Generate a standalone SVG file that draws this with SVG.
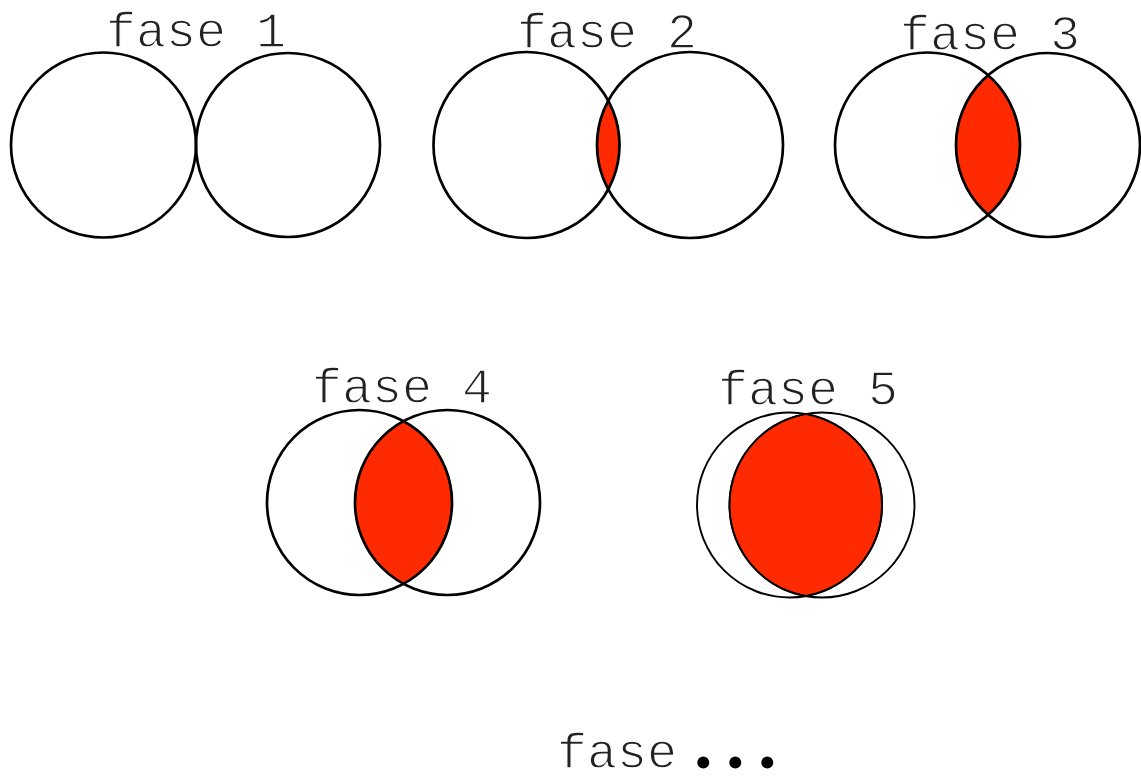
<svg xmlns="http://www.w3.org/2000/svg" width="1141" height="783" viewBox="0 0 1141 783">
  <style>
    .bg { fill: #ffffff; }
    .ring { fill: none; stroke: #000000; stroke-width: 2.7; }
    .ring-thin { fill: none; stroke: #000000; stroke-width: 1.9; }
    .lens { fill: #ff2a00; stroke: #000000; stroke-width: 1.5; }
    .label { font-family: "Liberation Mono", "Courier New", monospace; font-size: 50px; fill: #222222; stroke: #ffffff; stroke-width: 1.3; }
    .dots { font-family: "Liberation Serif", "Times New Roman", serif; font-size: 74px; font-weight: bold; letter-spacing: 13.5px; fill: #000000; stroke: none; }
  </style>
  <rect class="bg" x="0" y="0" width="1141" height="783"/>

  <g id="fase1">
    <circle class="ring" cx="103.5" cy="145" r="92.5"/>
    <circle class="ring" cx="288" cy="145" r="92"/>
    <text class="label" x="196" y="47" text-anchor="middle">fase 1</text>
  </g>

  <g id="fase2">
    <path class="lens" d="M608.25,100.65 A93,93 0 0 0 608.25,189.35 A93,93 0 0 0 608.25,100.65 Z"/>
    <circle class="ring" cx="526.5" cy="145" r="93"/>
    <circle class="ring" cx="690" cy="145" r="93"/>
    <text class="label" x="607" y="48" text-anchor="middle">fase 2</text>
  </g>

  <g id="fase3">
    <path class="lens" d="M988.1,75.1 A92,92 0 0 0 988.1,214.9 A92.5,92.5 0 0 0 988.1,75.1 Z"/>
    <circle class="ring" cx="927.5" cy="145" r="92.5"/>
    <circle class="ring" cx="1048" cy="145" r="92"/>
    <text class="label" x="990" y="50" text-anchor="middle">fase 3</text>
  </g>

  <g id="fase4">
    <path class="lens" d="M403.5,421.1 A92.5,92.5 0 0 0 403.5,583.9 A92.5,92.5 0 0 0 403.5,421.1 Z"/>
    <circle class="ring" cx="359.5" cy="502.5" r="92.5"/>
    <circle class="ring" cx="447.5" cy="502.5" r="92.5"/>
    <text class="label" x="402" y="403" text-anchor="middle">fase 4</text>
  </g>

  <g id="fase5">
    <path class="lens" d="M805.75,413.9 A92.5,92.5 0 0 0 805.75,596.1 A92.5,92.5 0 0 0 805.75,413.9 Z"/>
    <circle class="ring-thin" cx="789.5" cy="505" r="92.5"/>
    <circle class="ring-thin" cx="822" cy="505" r="92.5"/>
    <text class="label" x="808" y="405" text-anchor="middle">fase 5</text>
  </g>

  <g id="fase-more">
    <text class="label" x="557" y="768">fase<tspan class="dots" dx="17">...</tspan></text>
  </g>
</svg>
